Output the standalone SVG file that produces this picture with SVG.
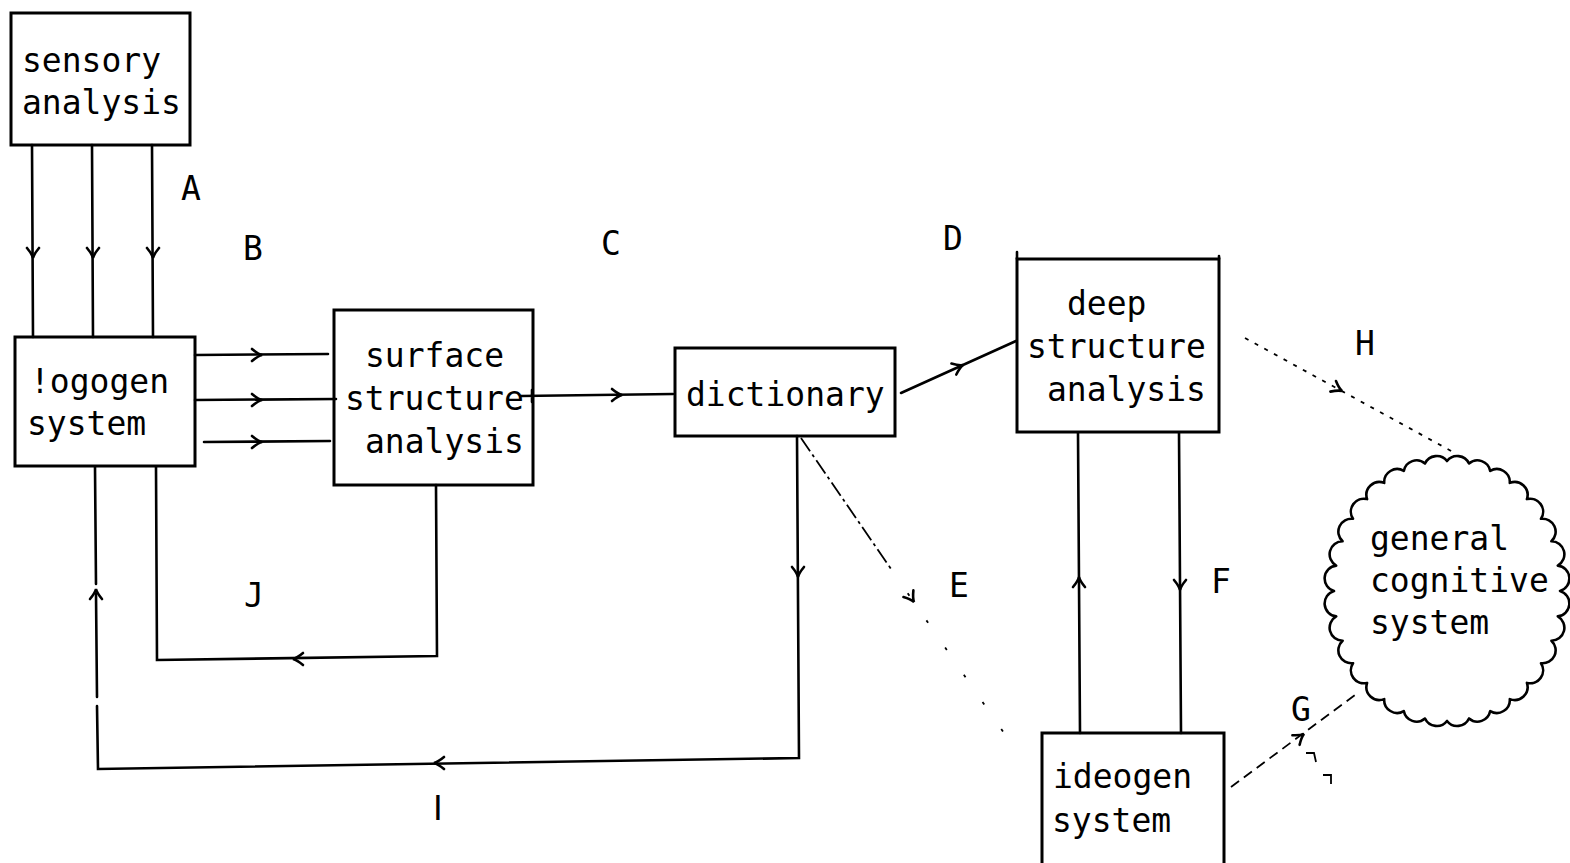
<svg xmlns="http://www.w3.org/2000/svg" xmlns:xlink="http://www.w3.org/1999/xlink" width="1570" height="863" viewBox="0 0 1570 863">
<style>
.box{fill:#fff;stroke:#000;stroke-width:3}
.cloud{fill:#fff;stroke:#000;stroke-width:2.6;stroke-linejoin:round}
.ln{fill:none;stroke:#000;stroke-width:2.6;stroke-linecap:round}
.dash{fill:none;stroke:#000;stroke-width:1.8}
.t{font-family:"DejaVu Sans Mono","Liberation Mono",monospace;font-size:33px;fill:#000}
.lab{font-family:"DejaVu Sans Mono","Liberation Mono",monospace;font-size:33px;fill:#000}
</style>
<defs>
<path id="ah" d="M-10,-6 Q-4,-1 0,0 Q-4,1 -10,6" fill="none" stroke="#000" stroke-width="2.6" stroke-linecap="round"/>
</defs>
<rect width="1570" height="863" fill="#fff"/>

<g id="sensory">
  <rect class="box" x="11" y="13" width="179" height="132"/>
  <text class="t" x="22" y="72">sensory</text>
  <text class="t" x="22" y="114">analysis</text>
</g>

<g id="logogen">
  <rect class="box" x="15" y="337" width="180" height="129"/>
  <text class="t" x="30" y="393">!ogogen</text>
  <text class="t" x="27" y="435">system</text>
</g>

<g id="surface">
  <rect class="box" x="334" y="310" width="199" height="175"/>
  <text class="t" x="365" y="367">surface</text>
  <text class="t" x="345" y="410">structure</text>
  <text class="t" x="365" y="453">analysis</text>
</g>

<g id="dictionary">
  <rect class="box" x="675" y="348" width="220" height="88"/>
  <text class="t" x="686" y="406">dictionary</text>
</g>

<g id="deep">
  <rect class="box" x="1017" y="259" width="202" height="173"/>
  <path class="ln" d="M1017,259 L1017,252 M1219,259 L1219,256"/>
  <text class="t" x="1067" y="315">deep</text>
  <text class="t" x="1027" y="358">structure</text>
  <text class="t" x="1047" y="401">analysis</text>
</g>

<g id="ideogen">
  <rect class="box" x="1042" y="733" width="182" height="140"/>
  <text class="t" x="1053" y="788">ideogen</text>
  <text class="t" x="1052" y="832">system</text>
</g>

<g id="cognitive">
  <path class="cloud" d="M1560,591 A13,13 0 0 1 1557.8,616.4 A13,13 0 0 1 1551.4,640.7 A13,13 0 0 1 1541,663.2 A13,13 0 0 1 1526.9,682.9 A13,13 0 0 1 1509.8,699.1 A13,13 0 0 1 1490.2,711.1 A13,13 0 0 1 1469,718.5 A13,13 0 0 1 1447,721 A13,13 0 0 1 1425,718.5 A13,13 0 0 1 1403.8,711.1 A13,13 0 0 1 1384.2,699.1 A13,13 0 0 1 1367.1,682.9 A13,13 0 0 1 1353,663.2 A13,13 0 0 1 1342.6,640.7 A13,13 0 0 1 1336.2,616.4 A13,13 0 0 1 1334,591 A13,13 0 0 1 1336.2,565.6 A13,13 0 0 1 1342.6,541.3 A13,13 0 0 1 1353,518.8 A13,13 0 0 1 1367.1,499.1 A13,13 0 0 1 1384.2,482.9 A13,13 0 0 1 1403.8,470.9 A13,13 0 0 1 1425,463.5 A13,13 0 0 1 1447,461 A13,13 0 0 1 1469,463.5 A13,13 0 0 1 1490.2,470.9 A13,13 0 0 1 1509.8,482.9 A13,13 0 0 1 1526.9,499.1 A13,13 0 0 1 1541,518.8 A13,13 0 0 1 1551.4,541.3 A13,13 0 0 1 1557.8,565.6 A13,13 0 0 1 1560,591 Z"/>
  <text class="t" x="1370" y="550">general</text>
  <text class="t" x="1370" y="592">cognitive</text>
  <text class="t" x="1370" y="634">system</text>
</g>

<g id="connectors">
  <!-- sensory -> logogen -->
  <path class="ln" d="M32,145 L33,337 M92,145 L93,337 M152,145 L153,337"/>
  <use href="#ah" transform="translate(33,258) rotate(90)"/>
  <use href="#ah" transform="translate(93,258) rotate(90)"/>
  <use href="#ah" transform="translate(153,258) rotate(90)"/>
  <!-- logogen -> surface -->
  <path class="ln" d="M195,355 L328,354 M195,400 L336,399 M204,442 L330,441"/>
  <use href="#ah" transform="translate(262,355) rotate(0)"/>
  <use href="#ah" transform="translate(262,400) rotate(0)"/>
  <use href="#ah" transform="translate(262,442) rotate(0)"/>
  <!-- surface -> dictionary -->
  <path class="ln" d="M521,396 L673,394 M532,390 L532,402"/>
  <use href="#ah" transform="translate(622,395) rotate(0)"/>
  <!-- dictionary -> deep -->
  <path class="ln" d="M901,393 L1016,341"/>
  <use href="#ah" transform="translate(963,365) rotate(-24)"/>
  <!-- J loop -->
  <path class="ln" d="M436,485 L437,656 L157,660 L156,467"/>
  <use href="#ah" transform="translate(293,659) rotate(180)"/>
  <!-- I loop -->
  <path class="ln" d="M797,436 L799,758 L98,769 L97,706 M97,697 L96,594 M96,584 L95,467"/>
  <use href="#ah" transform="translate(798,577) rotate(90)"/>
  <use href="#ah" transform="translate(434,763) rotate(180)"/>
  <use href="#ah" transform="translate(96,589) rotate(-90)"/>
  <!-- deep <-> ideogen -->
  <path class="ln" d="M1078,433 L1080,733 M1179,433 L1181,733"/>
  <use href="#ah" transform="translate(1079,577) rotate(-90)"/>
  <use href="#ah" transform="translate(1180,590) rotate(90)"/>
  <!-- E dashed: dictionary -> ideogen -->
  <path class="dash" d="M801,438 L889,566" stroke-dasharray="16 4 3 4"/>
  <path class="dash" d="M889,566 L1017,752" stroke-dasharray="3 30"/>
  <use href="#ah" transform="translate(914,602) rotate(56)"/>
  <!-- H dotted: deep -> cloud -->
  <path class="dash" d="M1245,338 L1453,452" stroke-dasharray="4 7"/>
  <use href="#ah" transform="translate(1342,391) rotate(28)"/>
  <!-- G dashed: ideogen -> cloud -->
  <path class="dash" d="M1231,787 L1359,692" stroke-dasharray="10 6"/>
  <use href="#ah" transform="translate(1304,734) rotate(-37)"/>
  <path class="dash" d="M1306,753 L1314,753 L1316,762 M1323,775 L1331,775 L1331,784" stroke-width="2.4"/>
</g>

<g id="labels">
  <text class="lab" x="181" y="200">A</text>
  <text class="lab" x="243" y="260">B</text>
  <text class="lab" x="601" y="255">C</text>
  <text class="lab" x="943" y="250">D</text>
  <text class="lab" x="949" y="597">E</text>
  <text class="lab" x="1211" y="593">F</text>
  <text class="lab" x="1291" y="721">G</text>
  <text class="lab" x="1355" y="355">H</text>
  <text class="lab" x="244" y="607">J</text>
  <text x="433" y="820" style="font-family:'DejaVu Sans',sans-serif;font-size:33px">I</text>
</g>
</svg>
